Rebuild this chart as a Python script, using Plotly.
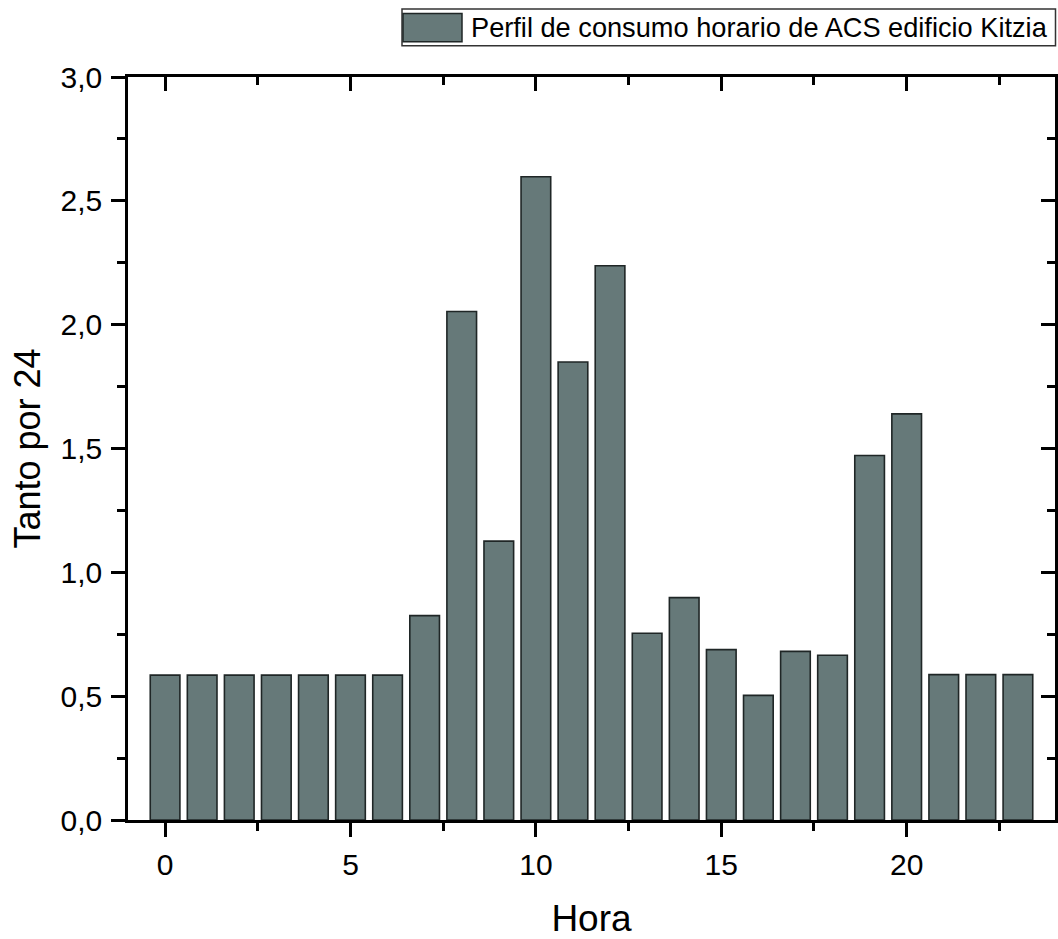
import plotly.graph_objects as go

hours = list(range(24))
values = [0.585, 0.585, 0.585, 0.585, 0.585, 0.585, 0.585, 0.825, 2.053, 1.126,
          2.597, 1.849, 2.238, 0.754, 0.898, 0.688, 0.503, 0.681, 0.665, 1.472,
          1.640, 0.587, 0.587, 0.587]
series_name = "Perfil de consumo horario de ACS edificio Kitzia"
x_title = "Hora"
y_title = "Tanto por 24"
x_tickvals = [0, 5, 10, 15, 20]
y_tickvals = [0.0, 0.5, 1.0, 1.5, 2.0, 2.5, 3.0]

FONT = "Arial, 'Liberation Sans', sans-serif"
BAR_FILL = "#667979"
BAR_LINE = "#1f2626"

W, H = 1058, 939
L, R, T, B = 128, 3, 77, 114
pw, ph = W - L - R, H - T - B


def px_x(p):
    return (p - L) / pw


def px_y(p):
    return (H - B - p) / ph


fig = go.Figure()
fig.add_trace(go.Bar(
    x=hours, y=values, width=0.8, name=series_name,
    marker=dict(color=BAR_FILL, line=dict(color=BAR_LINE, width=1.6)),
    showlegend=False,
))
# invisible helper trace so the mirrored (top/right) axes are drawn
fig.add_trace(go.Scatter(
    x=hours, y=values, xaxis="x2", yaxis="y2", mode="markers",
    marker=dict(opacity=0), showlegend=False, hoverinfo="skip",
))

axis_common = dict(
    showline=True, linecolor="black", linewidth=2.5,
    tickcolor="black", tickwidth=2.5, ticklen=14,
    showgrid=False, zeroline=False,
    tickfont=dict(family=FONT, size=30, color="black"),
)

fig.update_layout(
    width=W, height=H,
    margin=dict(l=L, r=R, t=T, b=B, pad=0),
    paper_bgcolor="white", plot_bgcolor="white",
    separators=",.",
    font=dict(family=FONT, color="black"),
    xaxis=dict(
        range=[-1, 24], tickvals=x_tickvals, ticks="outside",
        minor=dict(ticks="outside", dtick=2.5, tick0=0, ticklen=8,
                   tickwidth=2.5, tickcolor="black"),
        title=dict(text=x_title, font=dict(family=FONT, size=37, color="black"),
                   standoff=29),
        ticklabelstandoff=2,
        **axis_common,
    ),
    yaxis=dict(
        range=[0, 3.0], tickvals=y_tickvals, tickformat=".1f", ticks="outside",
        minor=dict(ticks="outside", dtick=0.25, tick0=0, ticklen=8,
                   tickwidth=2.5, tickcolor="black"),
        title=dict(text=y_title, font=dict(family=FONT, size=36, color="black"),
                   standoff=9),
        ticklabelstandoff=3,
        **axis_common,
    ),
    xaxis2=dict(
        range=[-1, 24], overlaying="x", side="top", anchor="y",
        tickvals=x_tickvals, ticks="inside", showticklabels=False,
        minor=dict(ticks="inside", dtick=2.5, tick0=0, ticklen=8,
                   tickwidth=2.5, tickcolor="black"),
        **axis_common,
    ),
    yaxis2=dict(
        range=[0, 3.0], overlaying="y", side="right", anchor="x",
        tickvals=y_tickvals, ticks="inside", showticklabels=False,
        minor=dict(ticks="inside", dtick=0.25, tick0=0, ticklen=8,
                   tickwidth=2.5, tickcolor="black"),
        **axis_common,
    ),
)

# Legend box (drawn manually to reproduce the wide swatch)
fig.add_shape(type="rect", xref="paper", yref="paper",
              x0=px_x(402), x1=px_x(1055.5), y0=px_y(45.5), y1=px_y(8.5),
              line=dict(color="#333333", width=1.5), fillcolor="white", layer="above")
fig.add_shape(type="rect", xref="paper", yref="paper",
              x0=px_x(403), x1=px_x(462), y0=px_y(41.5), y1=px_y(13),
              line=dict(color=BAR_LINE, width=1.5), fillcolor=BAR_FILL, layer="above")
fig.add_annotation(xref="paper", yref="paper", x=px_x(469), y=px_y(27.5),
                   xanchor="left", yanchor="middle", showarrow=False,
                   text=series_name,
                   font=dict(family=FONT, size=27.2, color="black"))

fig.write_html(
    "out.html",
    config={"displayModeBar": False},
    post_script="document.body.style.margin='0';document.body.style.padding='0';"
                "document.body.style.overflow='hidden';",
)
